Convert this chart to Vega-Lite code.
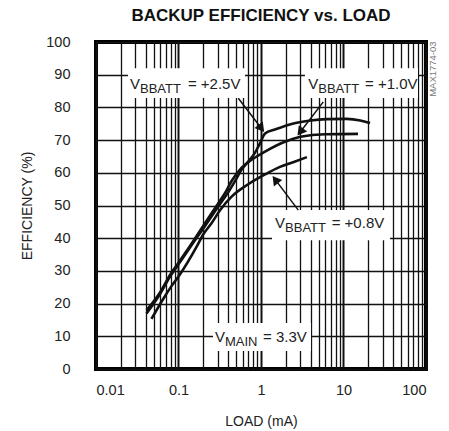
{
  "$schema": "https://vega.github.io/schema/vega-lite/v6.json",
  "width": 330,
  "height": 327,
  "autosize": {"type": "none"},
  "padding": {"left": 96, "top": 42, "right": 23, "bottom": 62},
  "background": "white",
  "config": {
    "font": "Liberation Sans",
    "view": {"stroke": "black", "strokeWidth": 4},
    "axis": {"domain": false, "ticks": false, "gridColor": "#111", "gridOpacity": 1, "labelColor": "#222", "titleColor": "#222", "labelFont": "Liberation Sans", "titleFont": "Liberation Sans", "titleFontWeight": "normal"}
  },
  "title": {"text": "BACKUP EFFICIENCY vs. LOAD", "font": "Liberation Sans", "fontSize": 17, "fontWeight": "bold", "color": "#111", "anchor": "middle", "offset": 9},
  "datasets": {
    "curves": [
      {"s": "2.5", "load": 0.041, "eff": 17}, {"s": "2.5", "load": 0.06, "eff": 23}, {"s": "2.5", "load": 0.08, "eff": 28.5}, {"s": "2.5", "load": 0.1, "eff": 32}, {"s": "2.5", "load": 0.15, "eff": 38.5}, {"s": "2.5", "load": 0.2, "eff": 43}, {"s": "2.5", "load": 0.3, "eff": 49.5}, {"s": "2.5", "load": 0.4, "eff": 54}, {"s": "2.5", "load": 0.48, "eff": 57.3}, {"s": "2.5", "load": 0.58, "eff": 60.9}, {"s": "2.5", "load": 0.7, "eff": 63.4}, {"s": "2.5", "load": 0.84, "eff": 66}, {"s": "2.5", "load": 0.97, "eff": 69}, {"s": "2.5", "load": 1.12, "eff": 72}, {"s": "2.5", "load": 1.5, "eff": 73.3}, {"s": "2.5", "load": 2.47, "eff": 75.1}, {"s": "2.5", "load": 4, "eff": 76}, {"s": "2.5", "load": 6.25, "eff": 76.4}, {"s": "2.5", "load": 11, "eff": 76.5}, {"s": "2.5", "load": 16, "eff": 76}, {"s": "2.5", "load": 21, "eff": 75.2},
      {"s": "1.0", "load": 0.041, "eff": 18}, {"s": "1.0", "load": 0.06, "eff": 23.5}, {"s": "1.0", "load": 0.08, "eff": 29}, {"s": "1.0", "load": 0.1, "eff": 32.5}, {"s": "1.0", "load": 0.15, "eff": 39}, {"s": "1.0", "load": 0.2, "eff": 43.8}, {"s": "1.0", "load": 0.3, "eff": 50.5}, {"s": "1.0", "load": 0.37, "eff": 54}, {"s": "1.0", "load": 0.44, "eff": 57.5}, {"s": "1.0", "load": 0.58, "eff": 61.5}, {"s": "1.0", "load": 0.77, "eff": 64}, {"s": "1.0", "load": 1.12, "eff": 66.5}, {"s": "1.0", "load": 1.95, "eff": 69.5}, {"s": "1.0", "load": 3, "eff": 71}, {"s": "1.0", "load": 6, "eff": 71.8}, {"s": "1.0", "load": 15, "eff": 71.9},
      {"s": "0.8", "load": 0.047, "eff": 15.3}, {"s": "0.8", "load": 0.0655, "eff": 21.5}, {"s": "0.8", "load": 0.083, "eff": 25.5}, {"s": "0.8", "load": 0.104, "eff": 28.9}, {"s": "0.8", "load": 0.166, "eff": 37.4}, {"s": "0.8", "load": 0.2, "eff": 41.2}, {"s": "0.8", "load": 0.25, "eff": 44.5}, {"s": "0.8", "load": 0.32, "eff": 48.6}, {"s": "0.8", "load": 0.44, "eff": 52.7}, {"s": "0.8", "load": 0.7, "eff": 56.5}, {"s": "0.8", "load": 1.12, "eff": 59.5}, {"s": "0.8", "load": 1.7, "eff": 61.8}, {"s": "0.8", "load": 2.5, "eff": 63.3}, {"s": "0.8", "load": 3.6, "eff": 64.8}
    ],
    "boxes": [
      {"x": 0.0244, "x2": 0.64, "y": 82.9, "y2": 92},
      {"x": 3.41, "x2": 80, "y": 82.9, "y2": 92},
      {"x": 1.36, "x2": 36.6, "y": 39.4, "y2": 48.6},
      {"x": 0.262, "x2": 4.04, "y": 5.5, "y2": 14.1}
    ],
    "arrows": [
      {"x": 0.531, "y": 82.8, "x2": 1.011, "y2": 73.6, "dir": 142.7},
      {"x": 5.69, "y": 81.7, "x2": 2.99, "y2": 72.5, "dir": 217.2},
      {"x": 2.83, "y": 48.6, "x2": 1.49, "y2": 57.9, "dir": 322.8}
    ],
    "labels": [
      {"v": "V", "sub": "BBATT", "rest": "= +2.5V", "x": 0.0258, "y": 85.5, "xr": 0.13},
      {"v": "V", "sub": "BBATT", "rest": "= +1.0V", "x": 3.74, "y": 85.5, "xr": 18.2},
      {"v": "V", "sub": "BBATT", "rest": "= +0.8V", "x": 1.48, "y": 43.0, "xr": 7.19},
      {"v": "V", "sub": "MAIN", "rest": "= 3.3V", "x": 0.277, "y": 8.4, "xr": 1.057}
    ],
    "mark": [{"t": "MAX1774-03", "x": 121.6, "y": 91.7}]
  },
  "encoding": {
    "x": {"type": "quantitative", "scale": {"type": "log", "domain": [0.01, 100]},
      "axis": {"title": "LOAD (mA)", "titleFontSize": 14, "titlePadding": 18, "labelFontSize": 14.5, "labelPadding": 14, "format": "~g",
        "values": [0.01,0.02,0.03,0.04,0.05,0.06,0.07,0.08,0.09,0.1,0.2,0.3,0.4,0.5,0.6,0.7,0.8,0.9,1,2,3,4,5,6,7,8,9,10,20,30,40,50,60,70,80,90,100],
        "labelExpr": "(datum.value==0.01||datum.value==0.1||datum.value==1||datum.value==10||datum.value==100) ? datum.label : ''",
        "gridWidth": {"condition": {"test": "datum.value==0.01||datum.value==0.1||datum.value==1||datum.value==10||datum.value==100", "value": 2}, "value": 1.3}}},
    "y": {"type": "quantitative", "scale": {"domain": [0, 100], "nice": false},
      "axis": {"title": "EFFICIENCY (%)", "titleFontSize": 14, "titlePadding": 11, "labelFontSize": 14.5, "labelPadding": 26, "values": [0,10,20,30,40,50,60,70,80,90,100], "gridWidth": 1.5}}
  },
  "layer": [
    {"data": {"name": "boxes"}, "mark": {"type": "rect", "fill": "white"},
      "encoding": {"x": {"field": "x", "type": "quantitative"}, "x2": {"field": "x2"}, "y": {"field": "y", "type": "quantitative"}, "y2": {"field": "y2"}}},
    {"data": {"name": "curves"}, "mark": {"type": "line", "color": "#111", "strokeWidth": 2.6, "interpolate": "monotone"},
      "encoding": {"x": {"field": "load", "type": "quantitative"}, "y": {"field": "eff", "type": "quantitative"}, "detail": {"field": "s"}}},
    {"data": {"name": "arrows"}, "mark": {"type": "rule", "color": "#111", "strokeWidth": 1.5},
      "encoding": {"x": {"field": "x", "type": "quantitative"}, "y": {"field": "y", "type": "quantitative"}, "x2": {"field": "x2"}, "y2": {"field": "y2"}}},
    {"data": {"name": "arrows"}, "mark": {"type": "point", "shape": "triangle-up", "filled": true, "color": "#111", "size": 110, "opacity": 1},
      "encoding": {"x": {"field": "x2", "type": "quantitative"}, "y": {"field": "y2", "type": "quantitative"}, "angle": {"field": "dir", "type": "quantitative", "scale": null}}},
    {"data": {"name": "labels"}, "mark": {"type": "text", "align": "left", "baseline": "alphabetic", "fontSize": 15, "color": "#222"},
      "encoding": {"x": {"field": "x", "type": "quantitative"}, "y": {"field": "y", "type": "quantitative"}, "text": {"field": "v"}}},
    {"data": {"name": "labels"}, "mark": {"type": "text", "align": "left", "baseline": "alphabetic", "fontSize": 13, "dx": 10, "dy": 4, "color": "#222"},
      "encoding": {"x": {"field": "x", "type": "quantitative"}, "y": {"field": "y", "type": "quantitative"}, "text": {"field": "sub"}}},
    {"data": {"name": "labels"}, "mark": {"type": "text", "align": "left", "baseline": "alphabetic", "fontSize": 15, "color": "#222"},
      "encoding": {"x": {"field": "xr", "type": "quantitative"}, "y": {"field": "y", "type": "quantitative"}, "text": {"field": "rest"}}},
    {"data": {"name": "mark"}, "mark": {"type": "text", "angle": 270, "align": "center", "baseline": "middle", "fontSize": 9.5, "color": "#777"},
      "encoding": {"x": {"field": "x", "type": "quantitative"}, "y": {"field": "y", "type": "quantitative"}, "text": {"field": "t"}}}
  ]
}
